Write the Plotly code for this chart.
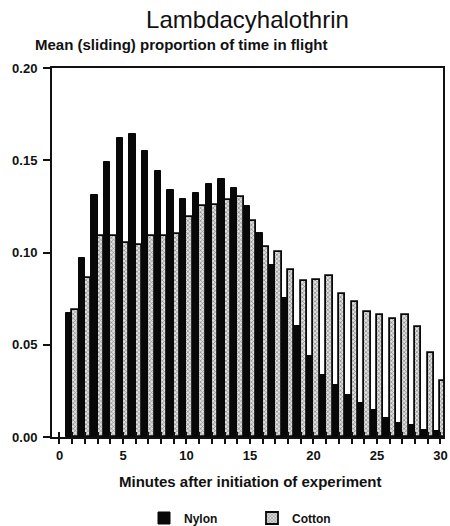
import plotly.graph_objects as go

minutes = list(range(1, 31))

nylon = [0.067, 0.097, 0.131, 0.149, 0.162, 0.164, 0.155, 0.144, 0.134, 0.129,
         0.132, 0.137, 0.140, 0.135, 0.125, 0.1105, 0.0934, 0.0753, 0.060, 0.044,
         0.0337, 0.0283, 0.0227, 0.0184, 0.0146, 0.0105, 0.0076, 0.0067, 0.0036, 0.0034]

cotton = [0.0686, 0.0861, 0.1087, 0.1087, 0.1054, 0.1042, 0.1087, 0.109, 0.110, 0.1195,
          0.125, 0.126, 0.1285, 0.130, 0.117, 0.103, 0.1005, 0.0906, 0.0845, 0.0852,
          0.0874, 0.0773, 0.073, 0.068, 0.0659, 0.0641, 0.0659, 0.0596, 0.0458, 0.0305]

x_tickvals = list(range(0, 31))
x_ticktext = [str(v) if v % 5 == 0 else "" for v in x_tickvals]
y_tickvals = [0.0, 0.05, 0.10, 0.15, 0.20]

font = "Liberation Sans, Arial, sans-serif"
x_range = [-0.59, 30.2]

fig = go.Figure()

fig.add_trace(go.Bar(x=minutes, y=nylon, name="Nylon",
                     marker=dict(color="#080808", line=dict(color="#080808", width=1))))

fig.add_trace(go.Bar(x=minutes, y=cotton, name="Cotton",
                     marker=dict(color="#e0e0e0",
                                 line=dict(color="#080808", width=1.8),
                                 pattern=dict(shape="x", fgcolor="#222222", size=3, solidity=0.4))))

# empty trace so the overlay axis with inside ticks gets drawn
fig.add_trace(go.Scatter(x=[None], y=[None], xaxis="x2", showlegend=False, hoverinfo="skip"))

fig.update_layout(
    width=450, height=526,
    margin=dict(l=52, r=2, t=68, b=89),
    paper_bgcolor="white", plot_bgcolor="white",
    barmode="group", bargap=0.0, bargroupgap=0.0,
    font=dict(family=font, color="#111111"),
    title=dict(text="Lambdacyhalothrin", x=0.5, xref="paper", xanchor="center",
               y=1 - 20 / 526, yref="container", yanchor="middle",
               font=dict(size=24, family=font, color="#111111")),
    xaxis=dict(range=x_range, tickvals=x_tickvals, ticktext=x_ticktext,
               ticks="outside", ticklen=5, tickwidth=1.5, tickcolor="#111111",
               ticklabeloverflow="allow",
               showline=True, linecolor="#111111", linewidth=2, mirror=True,
               showgrid=False, zeroline=False,
               tickfont=dict(size=13, weight=700)),
    xaxis2=dict(range=x_range, overlaying="x", anchor="y", side="bottom",
                tickvals=x_tickvals, ticks="inside", ticklen=5, tickwidth=1.5,
                tickcolor="#111111", showticklabels=False, showline=False,
                showgrid=False, zeroline=False),
    yaxis=dict(range=[0, 0.20], tickvals=y_tickvals, tickformat=".2f",
               ticks="outside", ticklen=7, tickwidth=1.5, tickcolor="#111111",
               ticklabelstandoff=3,
               showline=True, linecolor="#111111", linewidth=2, mirror=True,
               showgrid=False, zeroline=False,
               tickfont=dict(size=13, weight=700)),
    legend=dict(orientation="h", xref="container", yref="container",
                x=(185 - 41) / 450, y=1 - 518 / 526, xanchor="left", yanchor="middle",
                font=dict(size=12, weight=700), bgcolor="rgba(0,0,0,0)",
                entrywidth=63),
    showlegend=True,
)

fig.add_annotation(text="Mean (sliding) proportion of time in flight",
                   xref="paper", yref="paper", x=(33 - 52) / 396, y=(437.3 - 44) / 369.3,
                   xanchor="left", yanchor="middle", showarrow=False,
                   font=dict(size=15, weight=700, family=font))

fig.add_annotation(text="Minutes after initiation of experiment",
                   xref="paper", yref="paper", x=(253 - 52) / 396, y=(437.3 - 482) / 369.3,
                   xanchor="center", yanchor="middle", showarrow=False,
                   font=dict(size=15, weight=700, family=font))

# page has a default body margin; drop it so the figure sits at the window corner
fig.write_html("out.html", config={"displayModeBar": False},
               post_script="document.body.style.margin='0';document.body.style.overflow='hidden';")
